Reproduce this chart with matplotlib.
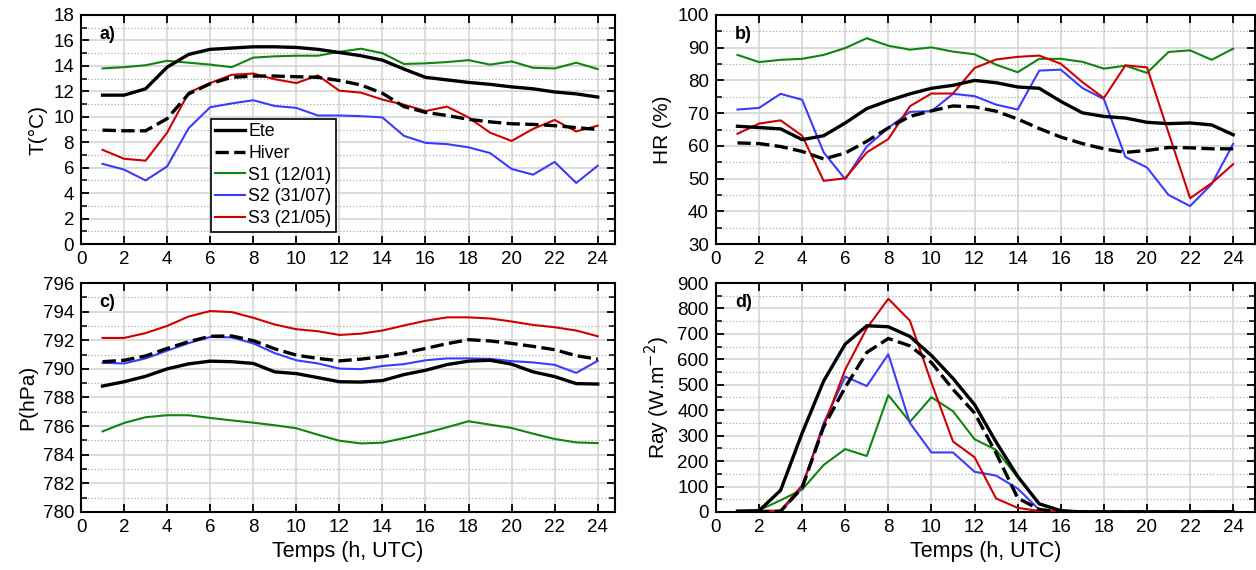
import numpy as np
import matplotlib
matplotlib.use("Agg")
import matplotlib.pyplot as plt
from matplotlib.ticker import MultipleLocator

plt.rcParams['font.family'] = ['Liberation Sans', 'DejaVu Sans']

hours = np.arange(1, 25)

# a) Temperature (degC)
t_ete = [11.7, 11.7, 12.2, 13.9, 14.9, 15.3, 15.4, 15.5, 15.5, 15.45, 15.3, 15.05,
         14.8, 14.45, 13.75, 13.1, 12.9, 12.7, 12.55, 12.35, 12.2, 11.95, 11.8, 11.55]
t_hiver = [8.95, 8.9, 8.9, 9.85, 11.8, 12.6, 13.1, 13.2, 13.2, 13.15, 13.1, 12.85,
           12.5, 11.85, 10.8, 10.35, 10.1, 9.8, 9.6, 9.45, 9.4, 9.3, 9.15, 9.0]
t_s1 = [13.8, 13.9, 14.05, 14.4, 14.25, 14.1, 13.9, 14.65, 14.75, 14.8, 14.8, 15.1,
        15.35, 15.0, 14.15, 14.2, 14.3, 14.45, 14.1, 14.35, 13.85, 13.8, 14.25, 13.75]
t_s2 = [6.3, 5.85, 5.0, 6.1, 9.1, 10.75, 11.05, 11.3, 10.85, 10.7, 10.1, 10.1,
        10.05, 9.95, 8.5, 7.95, 7.85, 7.6, 7.15, 5.9, 5.45, 6.45, 4.8, 6.15]
t_s3 = [7.4, 6.7, 6.55, 8.75, 11.9, 12.65, 13.3, 13.4, 12.95, 12.65, 13.25, 12.05,
        11.9, 11.35, 10.95, 10.45, 10.8, 9.95, 8.75, 8.1, 9.05, 9.75, 8.85, 9.3]

# b) Relative humidity (%)
hr_ete = [66.0, 65.6, 65.2, 61.9, 63.1, 67.0, 71.4, 73.8, 75.9, 77.6, 78.5, 80.0,
          79.3, 78.0, 77.6, 73.6, 70.1, 69.0, 68.5, 67.2, 66.8, 67.0, 66.4, 63.4]
hr_hiver = [60.9, 60.7, 59.8, 58.3, 56.0, 57.8, 61.4, 65.5, 69.0, 70.7, 72.2, 71.9,
            70.6, 68.2, 65.3, 62.7, 60.7, 59.1, 58.0, 58.6, 59.5, 59.4, 59.1, 59.1]
hr_s1 = [87.8, 85.6, 86.3, 86.6, 87.8, 89.9, 92.9, 90.6, 89.4, 90.1, 88.8, 88.0,
         84.8, 82.5, 86.6, 86.6, 85.7, 83.6, 84.5, 82.3, 88.7, 89.2, 86.3, 89.7]
hr_s2 = [71.1, 71.6, 75.9, 74.1, 58.0, 49.8, 59.8, 65.5, 70.4, 70.6, 75.9, 75.2,
         72.6, 71.1, 83.0, 83.3, 77.7, 74.3, 56.6, 53.4, 45.0, 41.6, 48.3, 60.6]
hr_s3 = [63.7, 66.8, 67.8, 63.1, 49.3, 50.1, 58.0, 62.1, 72.1, 76.0, 76.0, 83.8,
         86.4, 87.2, 87.6, 85.1, 79.5, 74.6, 84.6, 84.0, 64.0, 44.0, 48.6, 54.4]

# c) Pressure (hPa)
p_ete = [788.8, 789.1, 789.48, 790.0, 790.35, 790.54, 790.5, 790.38, 789.79, 789.67,
         789.39, 789.1, 789.08, 789.18, 789.6, 789.9, 790.3, 790.54, 790.6, 790.33,
         789.79, 789.46, 788.97, 788.94]
p_hiver = [790.5, 790.6, 790.9, 791.43, 791.9, 792.28, 792.3, 791.97, 791.4, 790.96,
           790.73, 790.56, 790.68, 790.85, 791.1, 791.43, 791.76, 792.04, 791.95,
           791.78, 791.57, 791.34, 790.92, 790.68]
p_s1 = [785.63, 786.22, 786.62, 786.76, 786.76, 786.57, 786.4, 786.24, 786.06, 785.85,
        785.4, 784.98, 784.79, 784.84, 785.16, 785.52, 785.92, 786.34, 786.1, 785.87,
        785.47, 785.1, 784.86, 784.81]
p_s2 = [790.42, 790.38, 790.73, 791.27, 791.8, 792.23, 792.2, 791.78, 791.1, 790.6,
        790.38, 790.02, 789.98, 790.2, 790.33, 790.6, 790.73, 790.73, 790.7, 790.54,
        790.45, 790.28, 789.72, 790.56]
p_s3 = [792.16, 792.16, 792.5, 793.0, 793.66, 794.04, 793.97, 793.57, 793.1, 792.77,
        792.63, 792.37, 792.46, 792.68, 793.03, 793.36, 793.6, 793.6, 793.52, 793.31,
        793.07, 792.91, 792.68, 792.28]

# d) Radiation (W.m-2)
ray_ete = [3, 5, 85, 310, 515, 660, 732, 728, 690, 615, 525, 422,
           275, 140, 32, 5, 0, 0, 0, 0, 0, 0, 0, 0]
ray_hiver = [0, 0, 3, 95, 335, 490, 627, 682, 653, 587, 482, 389,
             231, 55, 10, 0, 0, 0, 0, 0, 0, 0, 0, 0]
ray_s1 = [0, 7, 46, 88, 185, 247, 220, 459, 354, 451, 396, 286,
          244, 136, 33, 7, 0, 0, 0, 0, 0, 0, 0, 0]
ray_s2 = [0, 0, 0, 96, 350, 532, 495, 620, 350, 234, 234, 158,
          143, 92, 9, 0, 0, 0, 0, 0, 0, 0, 0, 0]
ray_s3 = [5, 5, 5, 105, 336, 560, 722, 838, 752, 508, 277, 215,
          53, 16, 4, 3, 3, 3, 3, 3, 3, 3, 3, 3]

labels = ['Ete', 'Hiver', 'S1 (12/01)', 'S2 (31/07)', 'S3 (21/05)']
GREEN = '#0f850f'
BLUE = '#3b3bff'
RED = '#d00000'

panels = [
    ('a)', 'T(°C)', (0, 18), 2, 1, [t_ete, t_hiver, t_s1, t_s2, t_s3]),
    ('b)', 'HR (%)', (30, 100), 10, 5, [hr_ete, hr_hiver, hr_s1, hr_s2, hr_s3]),
    ('c)', 'P(hPa)', (780, 796), 2, 1, [p_ete, p_hiver, p_s1, p_s2, p_s3]),
    ('d)', r'Ray (W.m$^{-2}$)', (0, 900), 100, 50, [ray_ete, ray_hiver, ray_s1, ray_s2, ray_s3]),
]

# axes boxes in figure fraction: left, bottom, width, height
boxes = [
    (0.0645, 0.5719, 0.4251, 0.4018),
    (0.5700, 0.5719, 0.4290, 0.4018),
    (0.0645, 0.1018, 0.4251, 0.4017),
    (0.5700, 0.1018, 0.4290, 0.4017),
]
xmax = [24.8, 25, 24.8, 25]

fig = plt.figure(figsize=(12.56, 5.7), dpi=100)

for i, (tag, ylab, ylim, major, minor, series) in enumerate(panels):
    ax = fig.add_axes(boxes[i])
    ete, hiver, s1, s2, s3 = series

    ax.plot(hours, s1, color=GREEN, lw=1.5, label=labels[2], zorder=3)
    ax.plot(hours, s2, color=BLUE, lw=1.5, label=labels[3], zorder=3)
    ax.plot(hours, s3, color=RED, lw=1.5, label=labels[4], zorder=4)
    ax.plot(hours, ete, color='black', lw=2.4, label=labels[0], zorder=5)
    ax.plot(hours, hiver, color='black', lw=2.4, dashes=(4, 1.6), label=labels[1], zorder=5)

    ax.set_xlim(0, xmax[i])
    ax.set_ylim(*ylim)
    ax.xaxis.set_major_locator(MultipleLocator(2))
    ax.yaxis.set_major_locator(MultipleLocator(major))
    ax.yaxis.set_minor_locator(MultipleLocator(minor))

    ax.grid(which='major', color='#d6d6d6', lw=1.2, ls='-', zorder=0)
    ax.grid(which='minor', axis='y', color='#b0b0b0', lw=0.9, ls=':', zorder=0)
    ax.set_axisbelow(True)

    ax.tick_params(which='major', direction='in', length=6, width=1.3,
                   top=True, right=True, labelsize=13.5, pad=5)
    ax.tick_params(which='minor', direction='in', length=4, width=1.1,
                   left=True, right=True)
    for sp in ax.spines.values():
        sp.set_linewidth(1.5)

    ax.set_ylabel(ylab, fontsize=15, labelpad=4)
    if i >= 2:
        ax.set_xlabel('Temps (h, UTC)', fontsize=15.5, labelpad=4)

    ax.text(0.035, 0.915, tag, transform=ax.transAxes, fontsize=13,
            fontweight='bold', va='center', ha='left')

    if i == 0:
        handles, labs = ax.get_legend_handles_labels()
        order = [3, 4, 0, 1, 2]
        leg = ax.legend([handles[k] for k in order], [labs[k] for k in order],
                        loc='upper left', bbox_to_anchor=(0.243, 0.548),
                        fontsize=12.8, frameon=True, fancybox=False,
                        edgecolor='black', framealpha=1, handlelength=1.65,
                        handletextpad=0.2, borderpad=0.25, labelspacing=0.27,
                        borderaxespad=0)
        leg.get_frame().set_linewidth(1.2)

fig.savefig('out.png', dpi=100)
